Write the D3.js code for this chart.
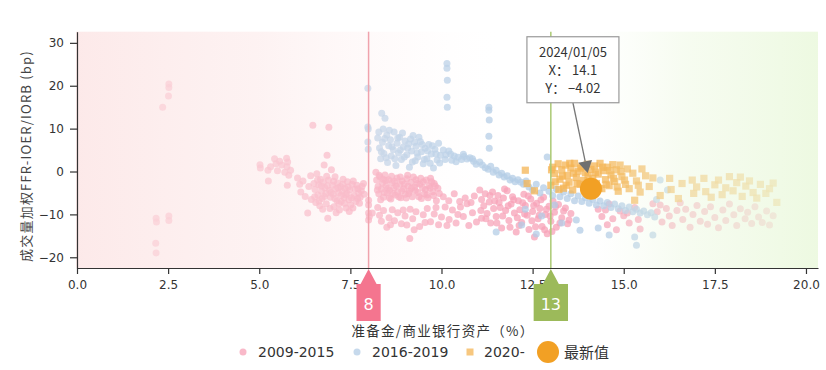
<!DOCTYPE html>
<html>
<head>
<meta charset="utf-8">
<script src="https://cdn.jsdelivr.net/npm/d3@7"></script>
<style>
  body { margin: 0; background: #fff; }
  text { font-family: "DejaVu Sans", sans-serif; fill: #333; }
  .cjk { font-family: "Noto Sans CJK SC", sans-serif; }
</style>
</head>
<body>
<script>
// 2009-2015
const pts0915 = [
  [2.17,-10.9],[2.18,-11.8],[2.16,-16.7],[2.17,-19.0],[2.52,-10.4],[2.52,-11.4],[2.52,20.4],[2.52,19.6],[2.51,17.6],[2.35,15.0],
  [5.02,1.6],[5.03,0.8],[5.24,0.3],[5.25,-2.2],[5.31,1.1],[5.42,3.0],[5.46,1.8],[5.5,0.2],[5.56,2.4],[5.62,1.5],[5.75,3.1],[5.78,2.2],[5.76,1.1],[5.81,-0.9],[5.77,-3.2],[5.86,0.3],[5.7,-0.2],
  [6.05,-1.5],[6.11,-3.0],[6.14,-4.8],[6.2,-2.2],[6.26,-5.8],[6.33,-9.7],[6.36,-3.5],[6.41,-1.0],[6.43,-6.5],[6.47,10.8],[6.5,-2.8],[6.53,-4.2],[6.55,-7.2],[6.58,-0.5],[6.61,-5.5],[6.63,-3.1],[6.66,-8.0],[6.68,-1.8],[6.71,-4.6],[6.72,-6.3],[6.76,-2.5],[6.78,1.5],[6.8,-3.8],[6.83,-5.1],[6.84,-7.5],[6.86,3.8],[6.88,-10.9],[6.9,-2.0],[6.91,10.3],[6.93,-4.4],[6.95,-6.0],[6.98,0.4],[7.01,-3.2],[7.03,-5.3],[7.05,-8.2],[7.08,-1.2],[7.1,-4.0],[7.13,-6.8],[7.15,-2.7],[7.18,-5.0],[7.2,-9.0],[7.23,-3.5],[7.25,-7.0],[7.28,-4.6],[7.3,-1.8],[7.33,-6.1],[7.35,-3.9],[7.38,-8.5],[7.41,-5.1],[7.42,-2.4],[7.46,-6.6],[7.48,-4.3],[7.51,-7.8],[7.55,-3.0],[7.57,-8.5],[7.6,-5.6],[7.63,-4.1],[7.68,-3.2],[7.7,-6.3],[7.73,-5.0],[7.75,-7.4],[7.8,-4.5],[7.86,-2.8],
  [6.52,-5.9],[6.6,-2.0],[6.64,-6.9],[6.7,-3.4],[6.74,-8.8],[6.79,-5.8],[6.85,-1.1],[6.87,-3.3],[6.94,-8.6],[6.97,-4.9],[7.04,-2.3],[7.07,-6.3],[7.11,-9.6],[7.16,-3.8],[7.19,-7.5],[7.24,-5.6],[7.29,-3.0],[7.34,-7.4],[7.37,-5.4],[7.44,-3.6],[7.47,-9.3],[7.53,-6.1],[7.58,-2.2],[7.65,-7.0],[7.71,-4.0],[7.77,-6.0],[7.82,-3.5],[7.88,-5.3],
  [8.0,-6.7],[8.0,-7.8],[8.0,-9.7],[8.0,-11.3],[8.02,-10.5],
  [8.2,-0.2],[8.22,-2.0],[8.26,-3.5],[8.28,-5.2],[8.31,-1.2],[8.35,-4.1],[8.38,-2.7],[8.41,-6.0],[8.45,-0.8],[8.48,-3.3],[8.51,-5.0],[8.55,-1.9],[8.58,-4.4],[8.61,-6.4],[8.65,-2.6],[8.7,-3.8],[8.73,-5.5],[8.78,-1.5],[8.8,-4.8],[8.86,-3.0],[8.88,-6.1],[8.92,-2.2],[8.96,-4.0],[9.01,-5.3],[9.05,-1.7],[9.08,-3.4],[9.12,-4.6],[9.16,-2.5],[9.2,-5.9],[9.26,-3.6],[9.3,-1.9],[9.35,-4.9],[9.41,-3.0],[9.45,-6.3],[9.5,-2.4],[9.56,-4.2],[9.6,-5.5],[9.66,-3.3],[9.7,-1.6],[9.76,-4.7],[9.8,-2.8],[9.86,-6.8],[9.9,-3.9],
  [8.24,-4.3],[8.29,-0.9],[8.33,-6.6],[8.4,-1.8],[8.43,-4.9],[8.47,-2.1],[8.53,-3.9],[8.57,-6.1],[8.63,-1.1],[8.67,-5.1],[8.71,-2.3],[8.76,-3.4],[8.83,-5.9],[8.87,-1.3],[8.91,-4.5],[8.98,-2.9],[9.03,-6.2],[9.07,-0.9],[9.1,-5.1],[9.18,-3.9],[9.23,-1.3],[9.28,-4.4],[9.33,-2.8],[9.38,-5.9],[9.43,-1.6],[9.48,-3.8],[9.53,-5.2],[9.58,-2.0],[9.63,-6.1],[9.68,-3.9],[9.73,-2.4],[9.78,-5.6],[9.83,-3.4],[9.94,-5.1],
  [8.1,-9.7],[8.25,-8.4],[8.3,-10.2],[8.41,-9.1],[8.5,-13.0],[8.56,-10.8],[8.65,-8.9],[8.71,-11.5],[8.8,-9.6],[8.9,-12.2],[9.0,-10.4],[9.05,-12.5],[9.13,-15.6],[9.14,-8.8],[9.21,-11.0],[9.3,-9.4],[9.4,-12.8],[9.5,-10.1],[9.61,-8.6],[9.7,-11.7],[9.8,-9.9],[9.92,-12.4],[10.0,-10.6],[10.1,-8.3],[10.21,-11.2],[10.3,-9.0],[10.4,-12.0],[10.52,-8.3],[10.6,-10.5],[10.7,-7.5],[10.81,-7.2],[10.85,-9.6],[10.96,-11.8],[11.1,-10.9],
  [8.35,-11.6],[8.6,-12.4],[8.95,-9.0],[9.25,-13.6],[9.55,-11.9],[9.85,-8.4],[10.15,-12.6],[10.45,-10.0],[10.75,-12.6],
  [10.05,-5.9],[10.2,-6.8],[10.35,-5.2],[10.5,-7.0],[10.65,-6.2],[10.9,-5.7],
  [11.05,-4.3],[11.1,-6.5],[11.16,-8.0],[11.2,-5.2],[11.25,-9.8],[11.31,-7.1],[11.35,-12.0],[11.4,-4.8],[11.46,-6.9],[11.5,-10.5],[11.55,-5.6],[11.61,-8.4],[11.65,-13.2],[11.7,-6.2],[11.76,-9.1],[11.8,-4.5],[11.85,-11.4],[11.91,-7.6],[11.95,-5.9],[12.0,-9.7],[12.05,-14.1],[12.11,-6.8],[12.15,-8.9],[12.2,-11.9],[12.26,-5.3],[12.3,-7.9],[12.35,-10.2],[12.4,-13.5],[12.45,-6.4],[12.5,-9.3],[12.55,-15.3],[12.61,-7.4],[12.65,-11.0],[12.7,-8.6],[12.76,-12.8],[12.8,-6.0],[12.85,-10.0],[12.9,-14.5],[12.95,-8.1],[13.0,-11.6],[13.06,-6.9],[13.1,-9.5],[13.15,-13.0],[13.21,-7.7],[13.3,-10.8],[13.4,-8.5],[13.46,-12.2],[13.55,-9.8],
  [11.08,-9.1],[11.22,-11.0],[11.33,-5.6],[11.43,-8.6],[11.52,-12.0],[11.58,-7.2],[11.68,-10.4],[11.73,-4.1],[11.83,-8.0],[11.88,-13.0],[11.98,-6.6],[12.08,-10.8],[12.13,-12.6],[12.23,-7.3],[12.28,-9.9],[12.38,-5.7],[12.48,-11.5],[12.53,-7.9],[12.58,-12.9],[12.68,-10.2],[12.73,-6.6],[12.83,-13.6],[12.88,-8.8],[12.98,-10.4],[13.03,-14.0],[13.13,-8.2],[13.25,-12.0],[13.35,-9.2],[13.5,-11.3],
  [14.3,-8.8],[14.4,-10.5],[14.5,-9.0],[14.55,-12.4],[14.6,-7.6],[14.7,-11.0],[14.8,-13.6],[14.9,-9.2],[15.0,-10.3],[15.1,-9.7],[15.15,-12.0],[15.3,-8.4],[15.4,-11.2],[15.45,-13.4],
  [15.8,-7.5],[15.92,-9.4],[16.0,-7.8],[16.05,-11.8],[16.17,-8.6],[16.25,-10.4],[16.33,-12.6],[16.46,-9.1],[16.55,-7.3],[16.62,-11.2],[16.7,-8.8],[16.82,-13.0],[16.9,-10.0],[17.01,-7.9],[17.1,-11.6],[17.22,-9.3],[17.3,-12.3],[17.38,-8.2],[17.5,-10.7],[17.6,-13.1],[17.72,-9.0],[17.8,-11.4],[17.9,-7.6],[18.02,-10.1],[18.1,-12.6],[18.2,-8.7],[18.33,-11.0],[18.4,-9.5],[18.51,-12.1],[18.6,-8.2],[18.7,-10.6],[18.8,-11.9],[18.92,-9.2],[19.0,-12.5],[19.1,-10.3]
];

// 2016-2019
const pts1619 = [
  [7.98,19.4],[7.98,10.4],[7.99,9.9],[7.98,6.9],[7.99,5.2],
  [8.36,13.6],[8.45,12.4],[8.4,9.9],[8.25,7.8],[8.3,5.5],[8.33,3.0],[8.38,6.8],[8.42,4.2],[8.5,8.5],[8.52,2.1],[8.55,6.0],[8.6,7.4],[8.62,3.6],[8.68,5.1],[8.7,9.2],[8.75,1.4],[8.78,6.6],[8.82,4.3],[8.85,8.0],[8.9,2.8],[8.95,5.7],[9.0,7.1],[9.05,3.9],[9.1,6.4],[9.12,1.0],[9.18,4.8],[9.22,8.4],[9.28,2.5],[9.3,5.9],[9.35,3.4],[9.42,7.0],[9.45,4.6],[9.5,1.8],[9.55,5.4],[9.6,3.0],[9.65,6.3],[9.72,4.1],[9.78,0.8],[9.82,5.2],[9.88,2.7],[9.92,6.6],[9.97,3.8],
  [8.28,9.2],[8.35,4.6],[8.44,7.7],[8.48,3.2],[8.57,9.6],[8.64,5.8],[8.72,3.0],[8.8,7.8],[8.87,5.0],[8.93,9.0],[8.98,3.4],[9.07,5.5],[9.15,7.6],[9.2,2.2],[9.26,6.8],[9.33,4.3],[9.38,8.0],[9.47,6.3],[9.53,2.8],[9.62,4.8],[9.69,1.9],[9.75,6.0],[9.85,4.1],[9.95,2.0],[10.1,2.8],[10.25,4.1],[10.4,2.3],[10.6,4.0],[10.85,3.0],
  [10.05,5.0],[10.12,3.9],[10.2,4.8],[10.28,2.6],[10.35,3.6],[10.45,3.3],[10.55,2.8],[10.62,3.5],[10.7,2.9],[10.78,3.2],[10.88,2.4],[10.95,1.7],[11.05,2.2],[11.12,1.5],[11.2,0.9],[11.28,0.5],[11.35,1.2],[11.42,-0.2],[11.5,0.3],[11.58,-0.8],[11.65,-0.4],[11.72,-1.3],[11.8,-1.0],[11.88,-2.0],[11.95,-1.6],[12.02,-2.4],[12.1,-1.9],[12.18,-2.5],[12.25,-3.0],[12.32,-2.2],
  [10.15,25.2],[10.15,24.1],[10.16,21.3],[10.15,17.3],[10.16,15.0],[11.3,15.0],[11.3,14.3],[11.31,12.0],[11.3,8.2],[11.31,5.4],
  [12.4,-3.6],[12.5,-4.3],[12.6,-3.0],[12.7,-5.0],[12.8,-3.8],[12.9,3.4],[12.95,-4.6],[13.05,-5.6],[13.15,-4.1],[13.25,-5.9],[13.35,-4.8],[13.45,-6.3],[13.55,-5.2],[13.65,-6.8],[13.75,-5.7],[13.85,-7.0],[13.95,-6.1],[14.05,-7.4],[14.15,-6.5],[14.25,-7.8],[14.35,-6.9],[14.45,-8.0],[14.55,-7.2],[14.65,-8.4],[14.75,-7.6],[14.85,-8.7],[14.95,-8.0],[15.05,-9.1],[15.15,-8.3],[15.25,-9.4],[15.35,-8.8],[15.45,-9.7],[15.55,-9.2],[15.65,-10.1],[15.75,-9.6],[15.85,-10.6],[16.0,-2.0],[16.2,-4.3],[15.9,-6.5],
  [11.5,-14.1],[13.7,-11.3],[13.8,-13.7],[14.3,-13.2],[14.6,-14.8],[15.3,-15.3],[15.35,-17.2],[15.8,-14.8],[12.2,-12.5],[12.6,-14.6],[13.3,-12.0],[12.3,-8.8],[12.75,-10.4],[13.1,-7.8]
];

// 2020-
const pts2020 = [
  [12.3,0.3],[12.35,-2.8],[12.55,-4.5],[13.0,-3.2],[13.05,1.0],[13.1,-0.5],[13.2,1.8],[13.25,-1.8],[13.3,0.4],[13.35,-3.9],[13.4,1.5],[13.45,-0.9],[13.5,-2.5],[13.55,0.8],[13.6,-4.3],[13.65,1.9],[13.7,-1.4],[13.75,0.1],[13.8,-3.0],[13.85,1.2],[13.9,-2.1],[13.95,-0.3],[14.0,1.7],[14.05,-3.5],[14.1,0.5],[14.15,-1.6],[14.2,1.3],[14.25,-2.8],[14.3,-0.6],[14.35,1.9],[14.4,-4.0],[14.45,0.2],[14.5,-1.9],[14.55,1.0],[14.6,-3.3],[14.65,-0.8],[14.7,1.6],[14.75,-2.3],[14.8,0.4],[14.85,-4.6],[14.9,1.5],[14.95,-1.2],[15.05,-3.0],[15.1,0.6],[15.25,-0.4],[15.3,-6.7],[15.35,-2.2],[15.45,-4.8],[15.6,-1.0],[15.7,-3.5],[15.8,-1.5],
  [13.02,0.4],[13.12,-2.4],[13.22,-4.2],[13.32,-1.1],[13.42,-3.2],[13.52,1.9],[13.62,-0.4],[13.72,-2.8],[13.82,0.8],[13.92,-4.1],[14.02,-1.0],[14.22,-0.2],[14.32,-3.9],[14.42,1.0],[14.52,-3.0],[14.62,0.2],[14.72,-1.6],[14.82,-3.6],[14.92,0.0],[15.02,-2.0],[15.15,-4.0],[15.4,-3.2],[15.5,0.6],
  [16.0,-5.6],[16.26,-1.6],[16.3,-4.2],[16.5,-6.3],[16.6,-2.8],[16.88,-2.0],[16.92,-5.1],[17.0,-3.6],[17.2,-1.6],[17.25,-4.7],[17.4,-6.0],[17.5,-3.1],[17.6,-2.0],[17.7,-5.4],[17.8,-3.8],[17.9,-1.2],[18.0,-4.5],[18.1,-2.6],[18.2,-1.3],[18.25,-5.8],[18.35,-3.4],[18.45,-2.2],[18.55,-4.9],[18.65,-6.2],[18.75,-3.0],[18.9,-5.1],[19.0,-4.0],[19.2,-7.2],[19.1,-2.7]
];

const latest = { date: "2024/01/05", x: 14.1, y: -4.02 };
const markLines = [ { v: 8, color: "#f4758f", line: "#f0a3ad" }, { v: 13, color: "#9cba5a", line: "#abc974" } ];
const seriesNames = ["2009-2015", "2016-2019", "2020-"];
const xTicks = [0, 2.5, 5, 7.5, 10, 12.5, 15, 17.5, 20];
const yTicks = [-20, -10, 0, 10, 20, 30];

const W = 826, H = 370;
const pLeft = 77, pRight = 818, pTop = 31.7, pBottom = 268;

const x = d3.scaleLinear().domain([0, 20.33]).range([pLeft, pRight]);
const y = d3.scaleLinear().domain([-22.5, 32.6]).range([pBottom, pTop]);

const svg = d3.select("body").append("svg").attr("width", W).attr("height", H);
svg.append("rect").attr("width", W).attr("height", H).attr("fill", "#fff");

const defs = svg.append("defs");
const grad = defs.append("linearGradient").attr("id", "bg").attr("x1", "0%").attr("x2", "100%").attr("y1", "0%").attr("y2", "0%");
[
  [0, "rgb(252,228,228)", 0.8],
  [0.25, "rgb(252,232,232)", 0.55],
  [0.45, "rgb(254,240,240)", 0.2],
  [0.58, "rgb(255,255,255)", 0],
  [0.7, "rgb(240,250,230)", 0],
  [0.82, "rgb(238,249,226)", 0.5],
  [1, "rgb(234,248,220)", 0.85]
].forEach(s => grad.append("stop").attr("offset", s[0]).attr("stop-color", s[1]).attr("stop-opacity", s[2]));

const plot = svg.append("g");

plot.selectAll("circle.p0").data(pts0915).enter().append("circle")
  .attr("cx", d => x(d[0])).attr("cy", d => y(d[1])).attr("r", 3.5)
  .attr("fill", "#f7a2b7").attr("fill-opacity", 0.75);

plot.selectAll("circle.p1").data(pts1619).enter().append("circle")
  .attr("cx", d => x(d[0])).attr("cy", d => y(d[1])).attr("r", 3.5)
  .attr("fill", "#b3cce6").attr("fill-opacity", 0.75);

plot.selectAll("rect.p2").data(pts2020).enter().append("rect")
  .attr("x", d => x(d[0]) - 3.6).attr("y", d => y(d[1]) - 3.6).attr("width", 7.2).attr("height", 7.2)
  .attr("fill", "#f4b454").attr("fill-opacity", 0.75);

// fading overlay
svg.append("rect").attr("x", pLeft - 1).attr("y", pTop).attr("width", pRight - pLeft + 1).attr("height", pBottom - pTop)
  .attr("fill", "url(#bg)");

// reference lines
markLines.forEach(m => {
  svg.append("line").attr("x1", x(m.v)).attr("x2", x(m.v)).attr("y1", pTop).attr("y2", pBottom)
    .attr("stroke", m.line).attr("stroke-width", 1.5);
});

// latest point
svg.append("circle").attr("cx", x(latest.x)).attr("cy", y(latest.y)).attr("r", 11).attr("fill", "#f2a024");

// axes
const xAxis = svg.append("g").attr("transform", `translate(0,${pBottom})`)
  .call(d3.axisBottom(x).tickValues(xTicks).tickFormat(d3.format(".1f")).tickSize(6).tickPadding(6).tickSizeOuter(0));
const yAxis = svg.append("g").attr("transform", `translate(${pLeft},0)`)
  .call(d3.axisLeft(y).tickValues(yTicks).tickSize(7).tickPadding(6).tickSizeOuter(0));
[xAxis, yAxis].forEach(a => {
  a.select(".domain").attr("stroke", "#333").attr("stroke-width", 1.2);
  a.selectAll(".tick line").attr("stroke", "#333").attr("stroke-width", 1.2);
  a.selectAll("text").attr("font-size", 12).attr("font-family", "DejaVu Sans").attr("fill", "#333");
});

// markers on the x axis
markLines.forEach(m => {
  const cx = x(m.v);
  const g = svg.append("g");
  const t = g.append("text").attr("x", cx).attr("y", 310).attr("text-anchor", "middle")
    .attr("font-size", 16).style("fill", "#fff").text(m.v);
  const hw = t.node().getComputedTextLength() / 2 + 7;
  g.insert("path", "text")
    .attr("d", `M${cx},${pBottom + 1} L${cx + 8},284 L${cx + hw},284 L${cx + hw},321 L${cx - hw},321 L${cx - hw},284 L${cx - 8},284 Z`)
    .attr("fill", m.color);
});

// axis titles
svg.append("text").attr("class", "cjk").attr("x", 443).attr("y", 336).attr("text-anchor", "middle")
  .attr("font-size", 13.5).attr("letter-spacing", 1.3).text("准备金/商业银行资产（%）");
svg.append("text").attr("class", "cjk").attr("transform", "translate(31,156) rotate(-90)").attr("text-anchor", "middle")
  .attr("font-size", 13).attr("letter-spacing", 1.2).style("fill", "#444").text("成交量加权FFR-IOER/IORB (bp)");

// tooltip with arrow
const px = x(latest.x), py = y(latest.y);
const bx0 = px - 18, by1 = py - 86;
const dx = px - bx0, dy = py - by1, len = Math.hypot(dx, dy);
const ux = dx / len, uy = dy / len;
const tip = [px - ux * 16, py - uy * 16];
const base = [tip[0] - ux * 12, tip[1] - uy * 12];
svg.append("line").attr("x1", bx0).attr("y1", by1).attr("x2", base[0]).attr("y2", base[1])
  .attr("stroke", "#777").attr("stroke-width", 1.3);
svg.append("path")
  .attr("d", `M${tip[0]},${tip[1]} L${base[0] - uy * 7},${base[1] + ux * 7} L${base[0] + uy * 7},${base[1] - ux * 7} Z`)
  .attr("fill", "#707070");
svg.append("rect").attr("x", bx0 - 46).attr("y", by1 - 66).attr("width", 92).attr("height", 66)
  .attr("fill", "#fff").attr("stroke", "#999").attr("stroke-width", 1.2);
[latest.date, "X： " + latest.x, "Y： " + latest.y.toFixed(2).replace("-", "−")].forEach((s, i) => {
  svg.append("text").attr("class", "cjk").attr("x", bx0).attr("y", by1 - 46 + i * 18).attr("text-anchor", "middle")
    .attr("font-size", 13).text(s);
});

// legend
const lg = svg.append("g").attr("transform", "translate(0,352)");
lg.append("circle").attr("cx", 243).attr("cy", 0).attr("r", 3.5).attr("fill", "#f7a2b7").attr("fill-opacity", 0.75);
lg.append("text").attr("x", 258).attr("y", 5).attr("font-size", 14).text(seriesNames[0]);
lg.append("circle").attr("cx", 357).attr("cy", 0).attr("r", 3.5).attr("fill", "#b3cce6").attr("fill-opacity", 0.75);
lg.append("text").attr("x", 372).attr("y", 5).attr("font-size", 14).text(seriesNames[1]);
lg.append("rect").attr("x", 466.5).attr("y", -3.5).attr("width", 7).attr("height", 7).attr("fill", "#f4b454").attr("fill-opacity", 0.75);
lg.append("text").attr("x", 484).attr("y", 5).attr("font-size", 14).text(seriesNames[2]);
lg.append("circle").attr("cx", 548).attr("cy", 0).attr("r", 11).attr("fill", "#f2a024");
lg.append("text").attr("class", "cjk").attr("x", 564).attr("y", 6).attr("font-size", 15).text("最新值");
</script>
</body>
</html>
